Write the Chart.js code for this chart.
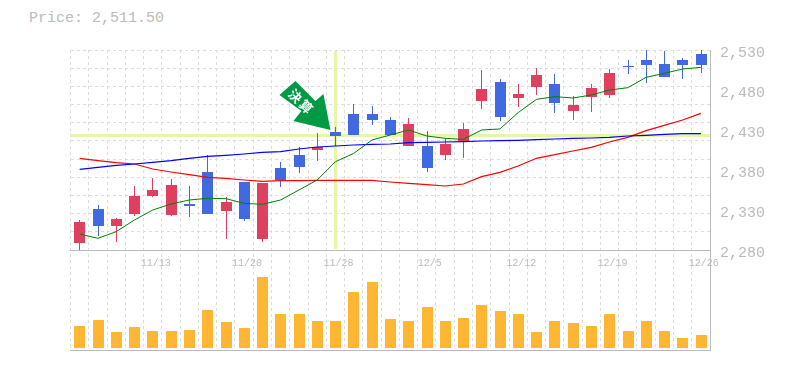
<!DOCTYPE html>
<html>
<head>
<meta charset="utf-8">
<title>Price chart</title>
<script src="https://cdn.jsdelivr.net/npm/chart.js@4"></script>
<style>
    html, body { margin: 0; padding: 0; background: #fff; }
    #wrap { position: relative; width: 785px; height: 370px; overflow: hidden; }
    #price { position: absolute; left: 29px; top: 10px; font: 15px/18px "Liberation Mono", monospace; color: #bbb; }
    canvas { position: absolute; left: 0; top: 0; }
</style>
</head>
<body>
<div id="wrap">
    <div id="price">Price: 2,511.50</div>
    <canvas id="chart" width="785" height="370"></canvas>
</div>
<script>
(function () {
    'use strict';

    var dates = ['11/7', '11/8', '11/9', '11/10', '11/13', '11/14', '11/15', '11/16', '11/17', '11/20',
        '11/21', '11/22', '11/24', '11/27', '11/28', '11/29', '11/30', '12/1', '12/4', '12/5',
        '12/6', '12/7', '12/8', '12/11', '12/12', '12/13', '12/14', '12/15', '12/18', '12/19',
        '12/20', '12/21', '12/22', '12/25', '12/26'];
    var dateTicks = ['11/13', '11/20', '11/28', '12/5', '12/12', '12/19', '12/26'];
    var priceTicks = [2280, 2330, 2380, 2430, 2480, 2530];

    var opens = [2289.2, 2331.25, 2310, 2325, 2347.5, 2323.75, 2337.5, 2377.5, 2328.75, 2365,
        2293.75, 2382.5, 2398.75, 2405, 2427.5, 2450, 2450, 2442.5, 2410, 2410,
        2398.75, 2416.25, 2466.25, 2490, 2470, 2483.75, 2487.5, 2453.75, 2471.25, 2473.75,
        2510, 2517.5, 2512.5, 2517.5, 2525];
    var closes = [2315, 2310, 2318.75, 2347.5, 2355, 2361.25, 2335, 2325, 2340, 2318.75,
        2363.75, 2367.5, 2383.75, 2408.75, 2422.5, 2423.75, 2442.5, 2423.75, 2437.5, 2382.5,
        2412.5, 2431.25, 2481.25, 2446.25, 2475, 2498.75, 2463.75, 2461.25, 2482.5, 2501.25,
        2509, 2511.25, 2496.25, 2511.25, 2511.5];
    var highs = [2317.5, 2336.25, 2320, 2360, 2370, 2368.75, 2360, 2398.75, 2346.25, 2365,
        2363.75, 2390, 2408.75, 2426.25, 2433.75, 2462.5, 2460, 2446.25, 2445, 2428.75,
        2420, 2438.75, 2505, 2493.75, 2487.5, 2507.5, 2500, 2472.5, 2487.5, 2506.25,
        2517.5, 2530, 2528.75, 2520, 2530];
    var lows = [2279.2, 2297.5, 2290, 2322.5, 2346.25, 2322.5, 2321.25, 2325, 2293.75, 2316.25,
        2290, 2358.75, 2376.25, 2391.25, 2410, 2423.75, 2436.25, 2423.75, 2410, 2377.5,
        2392.5, 2395, 2456.25, 2441.25, 2458.75, 2473.75, 2451.25, 2442.5, 2452.5, 2470,
        2500, 2488.75, 2496.25, 2493.75, 2501.25];

    var maShort = [2300, 2294.6, 2302.9, 2317.5, 2330, 2337.5, 2342.5, 2344.6, 2344.2, 2338.3,
        2337.1, 2342.5, 2355, 2367.5, 2390.4, 2400.8, 2417.5, 2423.75, 2430, 2422.5,
        2419.6, 2418.3, 2430, 2431.3, 2451.7, 2468.3, 2471.7, 2470, 2473.75, 2480,
        2482.9, 2495.8, 2500.8, 2506.25, 2508.3];
    var maMid = [2394.6, 2391.7, 2389.2, 2387.5, 2381.25, 2377.5, 2374.2, 2370.8, 2369.6, 2367.5,
        2365.8, 2366.7, 2366.7, 2367.1, 2367.1, 2367.1, 2367.1, 2365, 2363.3, 2361.7,
        2360, 2362.5, 2371.7, 2377.1, 2385, 2394.6, 2399.2, 2403.75, 2408.3, 2415,
        2420.8, 2429.2, 2435.8, 2442.5, 2450.8];
    var maLong = [2380.8, 2383.3, 2385.8, 2387.5, 2389.6, 2391.7, 2394.6, 2397.1, 2398.3, 2400,
        2402.1, 2402.9, 2406.25, 2408.75, 2410, 2411.25, 2412.1, 2412.5, 2414.2, 2414.6,
        2415, 2415.4, 2416.25, 2416.7, 2417.1, 2417.9, 2418.75, 2419.6, 2420, 2420.8,
        2422.5, 2423.3, 2424.6, 2425.4, 2425.4];

    // volume has no axis in the picture, so these are relative heights
    var volumes = [22, 28, 16, 21, 17, 17, 18, 38, 26, 20, 71, 34, 34, 27, 27, 56, 66, 29,
        27, 41, 27, 30, 43, 37, 34, 16, 27, 25, 22, 34, 17, 27, 17, 10, 13];

    var markerIndex = 14;
    var markerText = '決算';

    var UP = '#E04060';
    var DOWN = '#4169E1';
    var GRID = '#dddddd';
    var AXIS = '#bbbbbb';
    var LABEL = '#bbbbbb';
    var CROSS = '#E6F5A8';
    var MONO = '"Liberation Mono", monospace';

    function fixedWidth(w) {
        return function (scale) {
            scale.width = w;
        };
    }

    function pairs(a, b) {
        var out = [];
        for (var i = 0; i < a.length; i++) {
            out.push([a[i], b[i]]);
        }
        return out;
    }

    var candleColors = [];
    for (var i = 0; i < opens.length; i++) {
        candleColors.push(closes[i] >= opens[i] ? UP : DOWN);
    }

    // reference bars sit on whole pixels, so snap them before drawing
    var snapBars = {
        id: 'snapBars',
        beforeDatasetsDraw: function (chart) {
            chart.getSortedVisibleDatasetMetas().forEach(function (meta) {
                if (meta.type !== 'bar') {
                    return;
                }
                meta.data.forEach(function (el) {
                    el.x = Math.floor(el.x + 0.25) + 0.5;
                    el.y = Math.round(el.y);
                    el.base = Math.round(el.base);
                });
            });
        }
    };

    // crosshair sits under the candles, at the marked day's close
    var crosshair = {
        id: 'crosshair',
        beforeDatasetsDraw: function (chart) {
            var ctx = chart.ctx;
            var x = chart.scales.x.getPixelForValue(markerIndex);
            var y = chart.scales.y.getPixelForValue(closes[markerIndex]);
            var area = chart.chartArea;
            ctx.save();
            ctx.fillStyle = CROSS;
            ctx.fillRect(area.left, Math.round(y) - 2, area.right - area.left, 3);
            ctx.fillRect(Math.floor(x + 0.25) - 1, area.top + 1, 3, chart.scales.y.bottom - area.top - 2);
            ctx.restore();
        },
        afterDatasetsDraw: function (chart) {
            var ctx = chart.ctx;
            var x = chart.scales.x.getPixelForValue(markerIndex);
            var y = chart.scales.y.getPixelForValue(highs[markerIndex]);
            ctx.save();
            ctx.translate(x - 5, y + 3);
            ctx.fillStyle = '#009944';
            ctx.beginPath();
            ctx.moveTo(0, 0);
            ctx.lineTo(-37, -9);
            ctx.lineTo(-29, -19);
            ctx.lineTo(-51, -35);
            ctx.lineTo(-35, -49);
            ctx.lineTo(-15, -29);
            ctx.lineTo(-7, -36);
            ctx.closePath();
            ctx.fill();
            ctx.translate(-29, -28);
            ctx.rotate(Math.PI / 4);
            ctx.fillStyle = '#fff';
            ctx.font = 'bold 13px "Noto Sans CJK JP"';
            ctx.letterSpacing = '2px';
            ctx.textAlign = 'center';
            ctx.textBaseline = 'middle';
            ctx.fillText(markerText, 0, 0);
            ctx.restore();
        }
    };

    new Chart(document.getElementById('chart'), {
        type: 'bar',
        data: {
            labels: dates,
            datasets: [
                { type: 'line', data: maShort, borderColor: '#008000', borderWidth: 1, pointRadius: 0, yAxisID: 'y' },
                { type: 'line', data: maLong, borderColor: '#0000ff', borderWidth: 1.2, pointRadius: 0, yAxisID: 'y' },
                { type: 'line', data: maMid, borderColor: '#ff0000', borderWidth: 1.2, pointRadius: 0, yAxisID: 'y' },
                { data: pairs(opens, closes), backgroundColor: candleColors, barThickness: 11, yAxisID: 'y', borderSkipped: false, inflateAmount: 0 },
                { data: pairs(lows, highs), backgroundColor: candleColors, barThickness: 1, yAxisID: 'y', borderSkipped: false, inflateAmount: 0 },
                { data: volumes, backgroundColor: '#FFB733', barThickness: 11, yAxisID: 'yv', inflateAmount: 0 }
            ]
        },
        plugins: [snapBars, crosshair],
        options: {
            responsive: false,
            animation: false,
            layout: { padding: { left: 70.5, top: 50, right: 0, bottom: 20 } },
            plugins: {
                legend: { display: false },
                title: { display: false },
                tooltip: { enabled: false }
            },
            datasets: { bar: { grouped: false } },
            scales: {
                x: {
                    position: { y: 2280 },
                    offset: true,
                    grid: { color: GRID, offset: true, drawTicks: false },
                    border: { color: AXIS, dash: [3, 3] },
                    ticks: {
                        autoSkip: false,
                        maxRotation: 0,
                        padding: 7,
                        labelOffset: 3,
                        color: LABEL,
                        font: { family: MONO, size: 10 },
                        callback: function (value) {
                            var label = this.getLabelForValue(value);
                            return dateTicks.indexOf(label) >= 0 ? label : '';
                        }
                    }
                },
                xb: {
                    position: 'bottom',
                    offset: true,
                    grid: { display: false, drawTicks: false },
                    border: { color: AXIS },
                    ticks: { display: false }
                },
                y: {
                    position: 'right',
                    stack: 'panes',
                    stackWeight: 2,
                    min: 2280,
                    max: 2530,
                    afterFit: fixedWidth(75),
                    afterBuildTicks: function (scale) {
                        scale.ticks = priceTicks.map(function (v) {
                            return { value: v };
                        });
                    },
                    grid: { display: false, drawTicks: false },
                    border: { color: AXIS },
                    ticks: {
                        autoSkip: false,
                        padding: 10,
                        labelOffset: 3,
                        color: LABEL,
                        font: { family: MONO, size: 15 },
                        callback: function (value) {
                            return value.toLocaleString('en-US');
                        }
                    }
                },
                yv: {
                    position: 'right',
                    stack: 'panes',
                    stackWeight: 1,
                    min: -2,
                    max: 98,
                    afterFit: fixedWidth(75),
                    grid: { display: false, drawTicks: false },
                    border: { color: AXIS },
                    ticks: { display: false }
                },
                // horizontal grid of the price pane, not tied to the price labels
                yg: {
                    position: 'left',
                    reverse: true,
                    min: 0,
                    max: 16.5,
                    afterFit: fixedWidth(0),
                    grid: {
                        drawTicks: false,
                        color: function (c) {
                            return c.tick && c.tick.value <= 11 ? GRID : 'rgba(0,0,0,0)';
                        }
                    },
                    border: { display: false, dash: [3, 3] },
                    ticks: { display: false, stepSize: 1 }
                }
            }
        }
    });
})();
</script>
</body>
</html>
